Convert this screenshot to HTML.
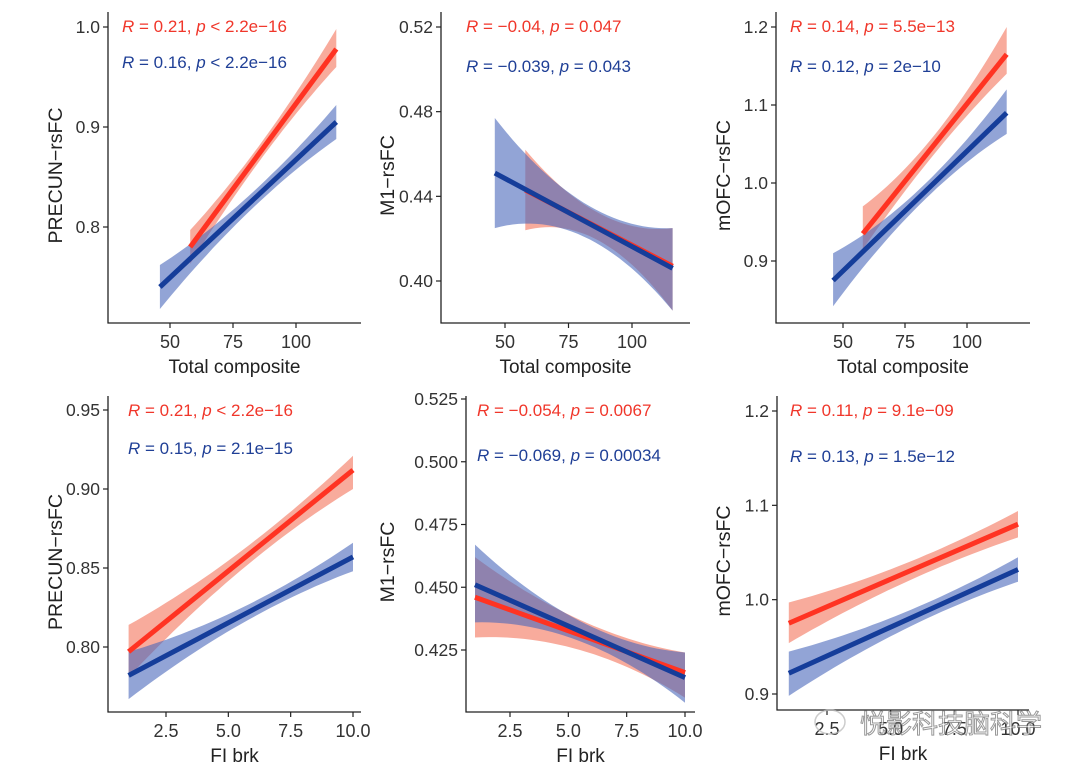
<!DOCTYPE html>
<html><head><meta charset="utf-8">
<style>
body{margin:0;background:#fff;}
svg text{font-family:"Liberation Sans","Noto Sans CJK SC",sans-serif;}
</style></head>
<body>
<svg id="fig" width="1080" height="774" viewBox="0 0 1080 774" xmlns="http://www.w3.org/2000/svg"></svg>
<script>
// ---- data ----
const panelYTitles = ["PRECUN\u2212rsFC","M1\u2212rsFC","mOFC\u2212rsFC","PRECUN\u2212rsFC","M1\u2212rsFC","mOFC\u2212rsFC"];
const panelXTitles = ["Total composite","Total composite","Total composite","FI brk","FI brk","FI brk"];
const yTicks = [[0.8,0.9,1.0],[0.40,0.44,0.48,0.52],[0.9,1.0,1.1,1.2],[0.80,0.85,0.90,0.95],[0.425,0.450,0.475,0.500,0.525],[0.9,1.0,1.1,1.2]];
const yTickLabels = [["0.8","0.9","1.0"],["0.40","0.44","0.48","0.52"],["0.9","1.0","1.1","1.2"],["0.80","0.85","0.90","0.95"],["0.425","0.450","0.475","0.500","0.525"],["0.9","1.0","1.1","1.2"]];
const xTicks = [[50,75,100],[50,75,100],[50,75,100],[2.5,5,7.5,10],[2.5,5,7.5,10],[2.5,5,7.5,10]];
const xTickLabels = [["50","75","100"],["50","75","100"],["50","75","100"],["2.5","5.0","7.5","10.0"],["2.5","5.0","7.5","10.0"],["2.5","5.0","7.5","10.0"]];
const redX = [[58,116],[58,116],[58,116],[1,10],[1,10],[1,10]];
const redFit = [[0.78,0.978],[0.443,0.407],[0.935,1.165],[0.797,0.912],[0.446,0.416],[0.975,1.08]];
const redLo = [[0.763,0.871,0.96],[0.424,0.419,0.386],[0.915,1.038,1.14],[0.781,0.8485,0.90],[0.430,0.425,0.406],[0.954,1.0175,1.066]];
const redHi = [[0.797,0.887,0.998],[0.462,0.432,0.425],[0.97,1.062,1.2],[0.814,0.8605,0.921],[0.462,0.437,0.424],[0.997,1.0375,1.094]];
const blueX = [[46,116],[46,116],[46,116],[1,10],[1,10],[1,10]];
const blueFit = [[0.74,0.905],[0.451,0.406],[0.875,1.09],[0.782,0.857],[0.451,0.414],[0.922,1.032]];
const blueLo = [[0.718,0.8145,0.888],[0.425,0.421,0.386],[0.842,0.9725,1.063],[0.767,0.8145,0.848],[0.436,0.4285,0.404],[0.898,0.968,1.019]];
const blueHi = [[0.762,0.8305,0.922],[0.477,0.437,0.425],[0.91,0.9925,1.12],[0.797,0.8245,0.866],[0.467,0.4365,0.424],[0.945,0.986,1.045]];
const redR = ["0.21","\u22120.04","0.14","0.21","\u22120.054","0.11"];
const redP = ["< 2.2e\u221216","= 0.047","= 5.5e\u221213","< 2.2e\u221216","= 0.0067","= 9.1e\u221209"];
const blueR = ["0.16","\u22120.039","0.12","0.15","\u22120.069","0.13"];
const blueP = ["< 2.2e\u221216","= 0.043","= 2e\u221210","= 2.1e\u221215","= 0.00034","= 1.5e\u221212"];

// ---- layout (pixel geometry) ----
const layout = [
 {ax:108,top:12,bottom:323,right:361, xa:[50,170],xb:[100,296], ya:[0.8,227],yb:[1.0,27], tx:122,ty1:32,ty2:68, ytx:62},
 {ax:441,top:12,bottom:323,right:690, xa:[50,505],xb:[100,632], ya:[0.40,281],yb:[0.52,27], tx:466,ty1:32,ty2:72, ytx:394},
 {ax:776,top:12,bottom:323,right:1030,xa:[50,843],xb:[100,967], ya:[0.9,261],yb:[1.2,27], tx:790,ty1:32,ty2:72, ytx:730},
 {ax:108,top:396,bottom:712,right:361,xa:[2.5,166],xb:[10,353], ya:[0.80,647],yb:[0.95,410], tx:128,ty1:416,ty2:454, ytx:62},
 {ax:466,top:396,bottom:712,right:695,xa:[2.5,510],xb:[10,685], ya:[0.425,650],yb:[0.525,399], tx:477,ty1:416,ty2:461, ytx:394},
 {ax:777,top:396,bottom:710,right:1029,xa:[2.5,827],xb:[10,1018], ya:[0.9,694],yb:[1.2,411], tx:790,ty1:416,ty2:462, ytx:730}
];
const NS="http://www.w3.org/2000/svg";
const svg=document.getElementById('fig');
function mk(tag,attrs,parent){const e=document.createElementNS(NS,tag);for(const k in attrs)e.setAttribute(k,attrs[k]);(parent||svg).appendChild(e);return e;}

function bandPath(xs,lo,hi,sx,sy){
  const x0=xs[0],x2=xs[1],x1=(x0+x2)/2;
  function q(v,x){const a=(x-x1)*(x-x2)/((x0-x1)*(x0-x2)),b=(x-x0)*(x-x2)/((x1-x0)*(x1-x2)),c=(x-x0)*(x-x1)/((x2-x0)*(x2-x1));return v[0]*a+v[1]*b+v[2]*c;}
  let top=[],bot=[];
  for(let i=0;i<=30;i++){const x=x0+(x2-x0)*i/30;top.push(sx(x).toFixed(1)+','+sy(q(hi,x)).toFixed(1));bot.unshift(sx(x).toFixed(1)+','+sy(q(lo,x)).toFixed(1));}
  return 'M'+top.join('L')+'L'+bot.join('L')+'Z';
}
function annot(g,x,y,color,r,pv){
  const t=mk('text',{x:x,y:y,'font-size':17,fill:color},g);
  const parts=[['R','italic'],[' = '+r+', ',null],['p','italic'],[' '+pv,null]];
  parts.forEach(pt=>{const s=mk('tspan',pt[1]?{'font-style':'italic'}:{},t);s.textContent=pt[0];});
  return t;
}

for(let p=0;p<6;p++){
  const L=layout[p];
  const g=mk('g',{});
  
  
  const sx=v=>L.xa[1]+(v-L.xa[0])*(L.xb[1]-L.xa[1])/(L.xb[0]-L.xa[0]);
  const sy=v=>L.ya[1]+(v-L.ya[0])*(L.yb[1]-L.ya[1])/(L.yb[0]-L.ya[0]);
  const rb=mk('path',{d:bandPath(redX[p],redLo[p],redHi[p],sx,sy),fill:'#F4735A','fill-opacity':0.6},g);
  
  
  const bb=mk('path',{d:bandPath(blueX[p],blueLo[p],blueHi[p],sx,sy),fill:'#4A68BA','fill-opacity':0.6},g);
  
  
  const rl=mk('line',{x1:sx(redX[p][0]),y1:sy(redFit[p][0]),x2:sx(redX[p][1]),y2:sy(redFit[p][1]),stroke:'#FF3322','stroke-width':5},g);
  
  
  const bl=mk('line',{x1:sx(blueX[p][0]),y1:sy(blueFit[p][0]),x2:sx(blueX[p][1]),y2:sy(blueFit[p][1]),stroke:'#153D9A','stroke-width':5},g);
  
  
  const ya=mk('line',{x1:L.ax,y1:L.top,x2:L.ax,y2:L.bottom+0.5,stroke:'#222','stroke-width':1.3},g);
  
  
  const xa=mk('line',{x1:L.ax-0.5,y1:L.bottom,x2:L.right,y2:L.bottom,stroke:'#222','stroke-width':1.3},g);
  
  
  yTicks[p].forEach((v,i)=>{
    const y=sy(v);
    mk('line',{x1:L.ax-5,y1:y,x2:L.ax,y2:y,stroke:'#222','stroke-width':1.2},g);
    const t=mk('text',{x:L.ax-8,y:y+6,'text-anchor':'end','font-size':17.5,fill:'#333'},g);
    t.textContent=yTickLabels[p][i];
    
    
  });
  xTicks[p].forEach((v,i)=>{
    const x=sx(v);
    mk('line',{x1:x,y1:L.bottom,x2:x,y2:L.bottom+5,stroke:'#222','stroke-width':1.2},g);
    const t=mk('text',{x:x,y:L.bottom+25,'text-anchor':'middle','font-size':18,fill:'#333'},g);
    t.textContent=xTickLabels[p][i];
    
    
  });
  const xt=mk('text',{x:(L.ax+L.right)/2,y:L.bottom+50,'text-anchor':'middle','font-size':19,fill:'#222'},g);
  xt.textContent=panelXTitles[p];
  
  
  const cy=(L.top+L.bottom)/2+8;
  const yt=mk('text',{x:L.ytx,y:cy,'text-anchor':'middle','font-size':19.5,fill:'#222',transform:`rotate(-90 ${L.ytx} ${cy})`},g);
  yt.textContent=panelYTitles[p];
  
  
  const r=annot(g,L.tx,L.ty1,'#F0362A',redR[p],redP[p]);
  
  
  const b=annot(g,L.tx,L.ty2,'#1F3F96',blueR[p],blueP[p]);
  
  
}
const wm=mk('g',{opacity:0.75});


mk('ellipse',{cx:830,cy:722,rx:15,ry:12,fill:'none',stroke:'#bbb','stroke-width':1.5},wm);
const wt=mk('text',{x:860,y:733,'font-size':26,fill:'#fff',stroke:'#777','stroke-width':1},wm);
wt.textContent='悦影科技脑科学';
</script>
</body></html>
